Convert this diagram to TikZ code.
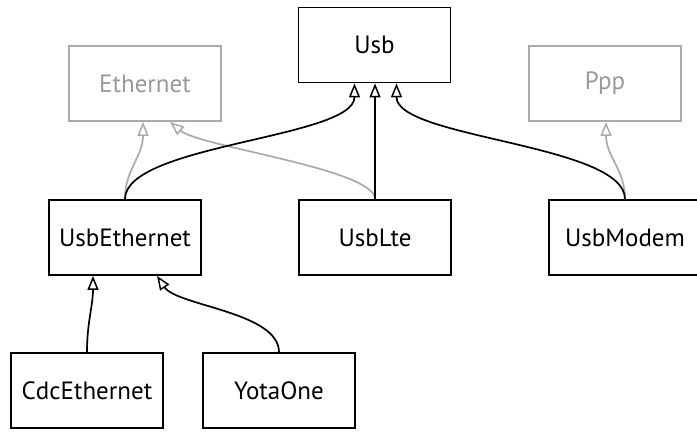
\documentclass[tikz,border=0pt]{standalone}
\usepackage{fontspec}
\setmainfont{PT Sans}
\usetikzlibrary{arrows.meta}
\definecolor{lightgr}{HTML}{AAAAAA}
\definecolor{textgr}{HTML}{999999}
\tikzset{
  cls/.style={draw=black, line width=1.8pt, minimum width=152pt, minimum height=75pt, inner sep=0pt, font=\fontsize{25}{29}\selectfont, text=black},
  ext/.style={cls, draw=lightgr, text=textgr},
  tri/.tip={Triangle[open, length=14pt 0 0, width=11pt 0 0, line width=1.5pt]},
  inh/.style={line width=1.7pt, -tri},
  inhg/.style={inh, draw=lightgr},
}
\begin{document}
\begin{tikzpicture}[x=1pt, y=-1pt]
\useasboundingbox (0,0) rectangle (697,432);
\node[cls] (usb) at (374.5,45) {Usb};
\node[ext] (eth) at (145,83.5) {Ethernet};
\node[ext] (ppp) at (605,83.5) {Ppp};
\node[cls] (usbeth) at (125,237.5) {UsbEthernet};
\node[cls] (usblte) at (375,237.5) {UsbLte};
\node[cls] (usbmodem) at (625,237.5) {UsbModem};
\node[cls] (cdc) at (87,390.5) {CdcEthernet};
\node[cls] (yota) at (279,390.5) {YotaOne};
% grey
\draw[inhg] (usbeth.north) .. controls +(0,-30) and +(0,35) .. ([xshift=-2pt]eth.south);
\draw[inhg] (usblte.north) .. controls +(0,-30) and +(30,25) .. ([xshift=25pt]eth.south);
\draw[inhg] (usbmodem.north) .. controls +(0,-30) and +(0,35) .. ([xshift=1pt]ppp.south);
% black
\draw[inh] (usbeth.north) .. controls +(0,-55) and +(0,55) .. ([xshift=-20pt]usb.south);
\draw[inh] (usblte.north) -- (usblte.north |- usb.south);
\draw[inh] (usbmodem.north) .. controls +(0,-55) and +(0,55) .. ([xshift=22pt]usb.south);
\draw[inh] (cdc.north) .. controls +(0,-30) and +(0,30) .. ([xshift=-32pt]usbeth.south);
\draw[inh] (yota.north) .. controls +(0,-40) and +(20,30) .. ([xshift=32pt]usbeth.south);
\end{tikzpicture}
\end{document}
